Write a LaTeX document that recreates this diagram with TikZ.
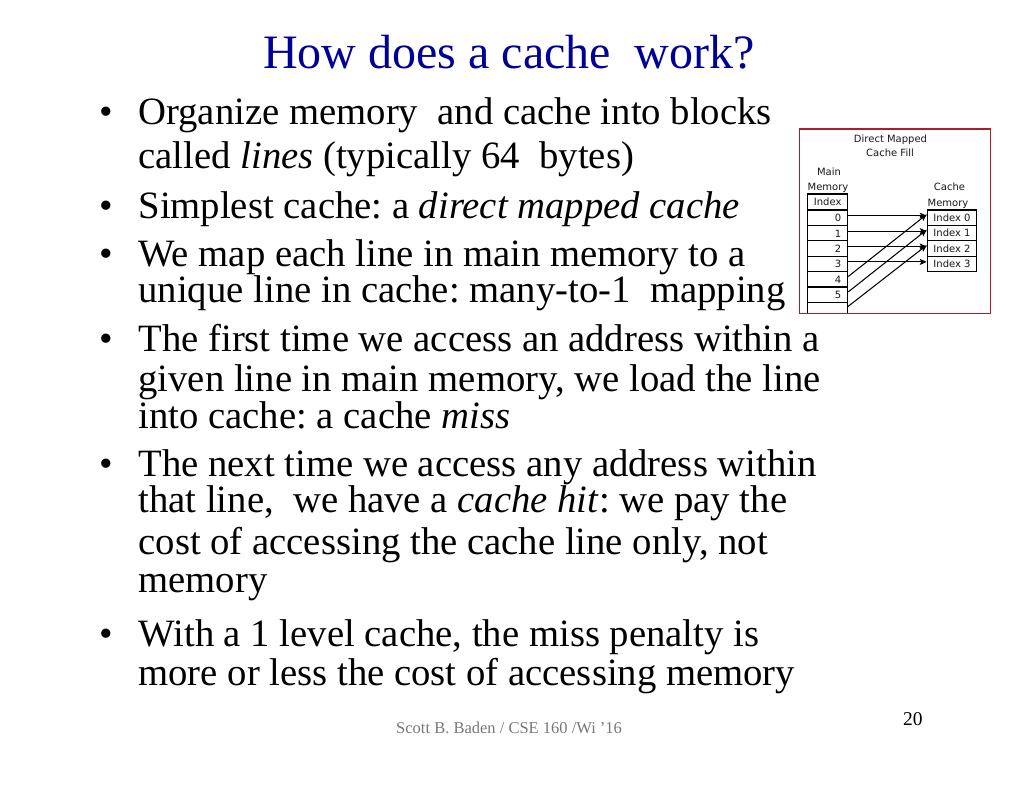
\documentclass[tikz,border=0pt]{standalone}
\usepackage{fontspec}
\setmainfont{Liberation Serif}
\newfontfamily\dejavu{DejaVu Sans}
\usetikzlibrary{arrows.meta}
\definecolor{titleblue}{RGB}{0,0,150}
\definecolor{framered}{RGB}{170,30,40}
\definecolor{footgray}{RGB}{120,120,120}
\definecolor{diagtext}{RGB}{25,25,25}
\begin{document}
\frenchspacing
\begin{tikzpicture}[x=1pt,y=-1pt,
  txt/.style={anchor=base west, inner sep=0pt, font=\fontsize{38.7}{40}\selectfont},
  bul/.style={anchor=base, inner sep=0pt, font=\fontsize{38.7}{40}\selectfont},
  dtext/.style={inner sep=0pt, text=diagtext, font=\dejavu\fontsize{10}{11}\selectfont},
  cell/.style={draw, line width=1.1pt, minimum height=15.4pt, inner sep=0pt, text=diagtext, font=\dejavu\fontsize{10}{11}\selectfont},
  mcell/.style={cell, minimum width=40pt},
  ccell/.style={cell, minimum width=49.4pt},
  arr/.style={line width=1.05pt, -{Stealth[length=7pt,width=6pt,inset=1.5pt]}}
]
\useasboundingbox (0,0) rectangle (1024,791);
\fill[white] (0,0) rectangle (1024,791);

% title
\node[anchor=base, inner sep=0pt, text=titleblue, font=\fontsize{48}{50}\selectfont] (title) at (509,68.3) {How does a cache\ \ work?};

% bullets
\node[bul] (b1) at (106,125) {•};
\node[bul] (b2) at (106,218.3) {•};
\node[bul] (b3) at (106,266.7) {•};
\node[bul] (b4) at (106,351.7) {•};
\node[bul] (b5) at (106,476.7) {•};
\node[bul] (b6) at (106,646) {•};

% body text
\node[txt] (l1) at (138.3,125) {Organize memory\ \ and cache into blocks};
\node[txt] (l2) at (138.3,169) {called \textit{lines} (typically 64\ \ bytes)};
\node[txt] (l3) at (138.3,218.3) {Simplest cache: a \textit{direct mapped cache}};
\node[txt] (l4) at (138.3,266.7) {We map each line in main memory to a};
\node[txt] (l5) at (138.3,302.7) {unique line in cache: many-to-1\ \ mapping};
\node[txt] (l6) at (138.3,351.7) {The first time we access an address within a};
\node[txt] (l7) at (138.3,391.7) {given line in main memory, we load the line};
\node[txt] (l8) at (138.3,428.3) {into cache: a cache \textit{miss}};
\node[txt] (l9) at (138.3,476.7) {The next time we access any address within};
\node[txt] (l10) at (138.3,512.7) {that line,\ \ we have a \textit{cache hit}: we pay the};
\node[txt] (l11) at (138.3,554.3) {cost of accessing the cache line only, not};
\node[txt] (l12) at (138.3,592.7) {memory};
\node[txt] (l13) at (138.3,646) {With a 1 level cache, the miss penalty is};
\node[txt] (l14) at (138.3,685.7) {more or less the cost of accessing memory};

% footer
\node[anchor=base west, inner sep=0pt, text=footgray, font=\fontsize{16.5}{18}\selectfont] (foot) at (396,733) {Scott B. Baden / CSE 160 /Wi '16};
\node[anchor=base west, inner sep=0pt, font=\fontsize{19.5}{21}\selectfont] (page) at (903,725.7) {20};

% diagram frame
\draw[framered, line width=1.2pt] (799.7,129) rectangle (990.7,313.7);

% diagram labels
\node[dtext, anchor=base] (dm) at (890.5,142.3) {Direct Mapped};
\node[dtext, anchor=base] (cf) at (890,156.7) {Cache Fill};
\node[dtext, anchor=base] (mm1) at (829,175.7) {Main};
\node[dtext, anchor=base] (mm2) at (828,190.7) {Memory};
\node[dtext, anchor=base] (cm1) at (949.5,191) {Cache};
\node[dtext, anchor=base] (cm2) at (948,206.7) {Memory};

% main memory column
\node[mcell, minimum height=16pt] (mh) at (827.7,202) {Index};
\node[mcell] (m0) at (827.7,217.7) {};
\node[mcell] (m1) at (827.7,233.1) {};
\node[mcell] (m2) at (827.7,248.5) {};
\node[mcell] (m3) at (827.7,263.9) {};
\node[mcell] (m4) at (827.7,279.3) {};
\node[mcell] (m5) at (827.7,294.7) {};
\node[dtext, anchor=base east] (n0) at (841.5,221.7) {0};
\node[dtext, anchor=base east] (n1) at (841.5,237.1) {1};
\node[dtext, anchor=base east] (n2) at (841.5,252.5) {2};
\node[dtext, anchor=base east] (n3) at (841.5,267.9) {3};
\node[dtext, anchor=base east] (n4) at (841.5,283.3) {4};
\node[dtext, anchor=base east] (n5) at (841.5,298.7) {5};
\coordinate (m6bl) at (807.7,302.4);
\coordinate (m6br) at (847.7,302.4);
\coordinate (m6blb) at (807.7,312.8);
\coordinate (m6brb) at (847.7,312.8);
\coordinate (m6) at (847.7,310.1);
\draw[line width=1.1pt] (m6bl) -- (m6blb) (m6br) -- (m6brb);

% cache column
\node[ccell] (c0) at (952,217.7) {Index 0};
\node[ccell] (c1) at (952,233.1) {Index 1};
\node[ccell] (c2) at (952,248.5) {Index 2};
\node[ccell] (c3) at (952,263.9) {Index 3};

% arrows
\draw[arr] ([yshift=2pt]m0.east) -- ([yshift=2pt]c0.west);
\draw[arr] ([yshift=2pt]m1.east) -- ([yshift=2pt]c1.west);
\draw[arr] ([yshift=2pt]m2.east) -- ([yshift=2pt]c2.west);
\draw[arr] ([yshift=2pt]m3.east) -- ([yshift=2pt]c3.west);
\draw[arr] ([yshift=2.8pt]m4.east) -- ([yshift=3.3pt]c0.west);
\draw[arr] ([yshift=2.8pt]m5.east) -- ([yshift=3.3pt]c1.west);
\draw[arr] ([yshift=3.4pt]m6) -- ([yshift=3.3pt]c2.west);
\end{tikzpicture}
\end{document}
